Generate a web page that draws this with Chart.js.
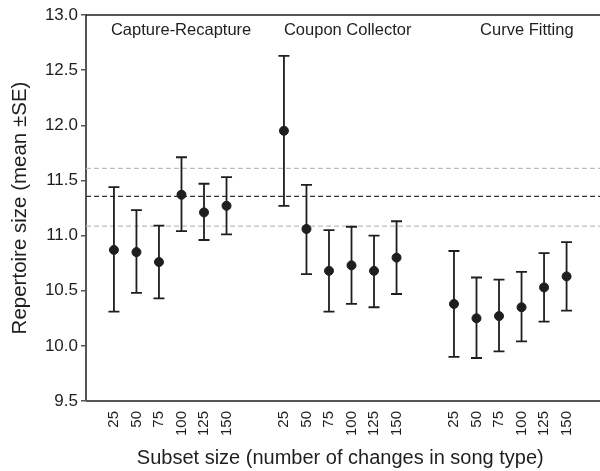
<!DOCTYPE html>
<html>
<head>
<meta charset="utf-8">
<script src="https://cdn.jsdelivr.net/npm/chart.js@4/dist/chart.umd.min.js"></script>
<style>
  html, body { margin: 0; padding: 0; background: #fff; }
  #chart { display: block; }
</style>
</head>
<body>
<canvas id="chart" width="600" height="471"></canvas>
<script>
// Estimators and subset sizes
const methods = ['Capture-Recapture', 'Coupon Collector', 'Curve Fitting'];
const subsetSizes = ['25', '50', '75', '100', '125', '150'];

// mean repertoire size and the ±SE limits, per estimator
const captureMean  = [10.87, 10.85, 10.76, 11.37, 11.21, 11.27];
const captureUpper = [11.44, 11.23, 11.09, 11.71, 11.47, 11.53];
const captureLower = [10.31, 10.48, 10.43, 11.04, 10.96, 11.01];

const couponMean  = [11.95, 11.06, 10.68, 10.73, 10.68, 10.80];
const couponUpper = [12.63, 11.46, 11.05, 11.08, 11.00, 11.13];
const couponLower = [11.27, 10.65, 10.31, 10.38, 10.35, 10.47];

const curveMean  = [10.38, 10.25, 10.27, 10.35, 10.53, 10.63];
const curveUpper = [10.86, 10.62, 10.60, 10.67, 10.84, 10.94];
const curveLower = [9.90, 9.89, 9.95, 10.04, 10.22, 10.32];

// observed repertoire (mean and ±SE)
const refMean = 11.355;
const refUpper = 11.61;
const refLower = 11.085;

const FONT = "'Liberation Sans', Arial, sans-serif";
const INK = '#1e1e1e';

const groups = [
    { mean: captureMean, upper: captureUpper, lower: captureLower },
    { mean: couponMean, upper: couponUpper, lower: couponLower },
    { mean: curveMean, upper: curveUpper, lower: curveLower }
];
const groupStart = [0, 7.55, 15.1];

const points = [];
const tickValues = [];
const tickText = [];
groups.forEach((g, gi) => {
    g.mean.forEach((m, i) => {
        const x = groupStart[gi] + i;
        points.push({ x: x, y: m, hi: g.upper[i], lo: g.lower[i] });
        tickValues.push(x);
        tickText.push(subsetSizes[i]);
    });
});

const refLinesPlugin = {
    id: 'refLines',
    beforeDatasetsDraw(chart) {
        const { ctx, chartArea, scales } = chart;
        const lines = [
            { v: refUpper, color: '#bdbdbd' },
            { v: refLower, color: '#bdbdbd' },
            { v: refMean, color: '#333333' }
        ];
        ctx.save();
        ctx.lineWidth = 1.3;
        ctx.setLineDash([5, 3]);
        lines.forEach(l => {
            const y = scales.y.getPixelForValue(l.v);
            ctx.strokeStyle = l.color;
            ctx.beginPath();
            ctx.moveTo(chartArea.left, y);
            ctx.lineTo(chart.width, y);
            ctx.stroke();
        });
        ctx.restore();
    }
};

const errorBarsPlugin = {
    id: 'errorBars',
    beforeDatasetsDraw(chart) {
        const { ctx, scales } = chart;
        ctx.save();
        ctx.strokeStyle = INK;
        ctx.lineWidth = 1.8;
        points.forEach(p => {
            const x = scales.x.getPixelForValue(p.x);
            const yHi = scales.y.getPixelForValue(p.hi);
            const yLo = scales.y.getPixelForValue(p.lo);
            ctx.beginPath();
            ctx.moveTo(x, yHi);
            ctx.lineTo(x, yLo);
            ctx.moveTo(x - 5.5, yHi);
            ctx.lineTo(x + 5.5, yHi);
            ctx.moveTo(x - 5.5, yLo);
            ctx.lineTo(x + 5.5, yLo);
            ctx.stroke();
        });
        ctx.restore();
    }
};

const frameAndLabelsPlugin = {
    id: 'frameAndLabels',
    afterDraw(chart) {
        const { ctx, chartArea, scales } = chart;
        ctx.save();
        // top frame line, and the x axis line carried on to the edge
        ctx.strokeStyle = INK;
        ctx.lineWidth = 1.5;
        ctx.beginPath();
        ctx.moveTo(chartArea.left, chartArea.top);
        ctx.lineTo(chart.width, chartArea.top);
        ctx.stroke();
        ctx.strokeStyle = '#555';
        ctx.lineWidth = 2;
        ctx.beginPath();
        ctx.moveTo(chartArea.left, Math.round(chartArea.bottom));
        ctx.lineTo(chart.width, Math.round(chartArea.bottom));
        ctx.stroke();

        // estimator names above each group
        ctx.fillStyle = INK;
        ctx.font = '16.5px ' + FONT;
        ctx.textBaseline = 'middle';
        const y = chartArea.top + 15;
        ctx.textAlign = 'left';
        ctx.fillText(methods[0], scales.x.getPixelForValue(groupStart[0]) - 3, y);
        ctx.fillText(methods[1], scales.x.getPixelForValue(groupStart[1]), y);
        ctx.textAlign = 'right';
        ctx.fillText(methods[2], scales.x.getPixelForValue(groupStart[2] + 5) + 7, y);
        ctx.restore();
    }
};

new Chart(document.getElementById('chart'), {
    type: 'scatter',
    data: {
        datasets: [{
            data: points,
            backgroundColor: INK,
            borderColor: INK,
            pointRadius: 4.5,
            pointHoverRadius: 4.5
        }]
    },
    options: {
        responsive: false,
        animation: false,
        layout: { padding: { top: 15, right: 0, left: 0, bottom: 0 } },
        plugins: {
            legend: { display: false },
            tooltip: { enabled: false }
        },
        scales: {
            x: {
                type: 'linear',
                min: -1.24,
                max: 21.34,
                afterBuildTicks: (scale) => {
                    scale.ticks = tickValues.map(v => ({ value: v }));
                },
                afterFit: (scale) => { scale.height = 70; },
                ticks: {
                    autoSkip: false,
                    minRotation: 90,
                    maxRotation: 90,
                    padding: 10,
                    color: INK,
                    font: { family: FONT, size: 15 },
                    callback: (value, index) => tickText[index]
                },
                grid: { display: false, drawTicks: false },
                border: { display: false },
                title: {
                    display: true,
                    text: 'Subset size (number of changes in song type)',
                    color: INK,
                    font: { family: FONT, size: 20 },
                    padding: { top: 0, bottom: 1 }
                }
            },
            y: {
                min: 9.5,
                max: 13,
                afterFit: (scale) => { scale.width = 86; },
                ticks: {
                    stepSize: 0.5,
                    padding: 3,
                    color: INK,
                    font: { family: FONT, size: 17 },
                    callback: (v) => v.toFixed(1)
                },
                grid: {
                    display: true,
                    drawOnChartArea: false,
                    drawTicks: true,
                    tickLength: 5,
                    color: '#555',
                    lineWidth: 1.5
                },
                border: { display: true, color: '#555', width: 2 },
                title: {
                    display: true,
                    text: 'Repertoire size (mean ±SE)',
                    color: INK,
                    font: { family: FONT, size: 20.5 },
                    padding: { top: 8, bottom: 0 }
                }
            }
        }
    },
    plugins: [refLinesPlugin, errorBarsPlugin, frameAndLabelsPlugin]
});
</script>
</body>
</html>
